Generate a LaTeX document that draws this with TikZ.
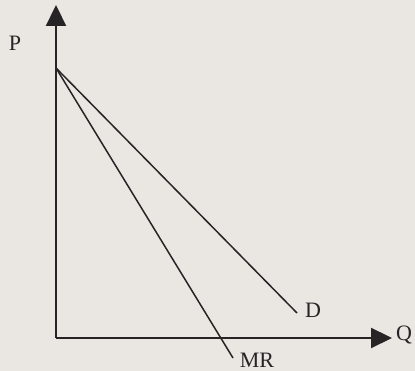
\documentclass[tikz,border=0pt]{standalone}
\usepackage{fontspec}
\setmainfont{Liberation Serif}
\usetikzlibrary{arrows.meta}
\definecolor{paper}{HTML}{EAE7E3}
\definecolor{ink}{HTML}{262424}
\tikzset{
  axis/.style={draw=ink, line width=2.2pt, -{Triangle[length=21pt,width=20pt]}},
  curve/.style={draw=ink, line width=1.5pt},
  lbl/.style={text=ink, font=\fontsize{22}{22}\selectfont, inner sep=0pt}
}
\begin{document}
\begin{tikzpicture}[x=1pt,y=1pt]
\fill[paper] (0,0) rectangle (415,371);
\useasboundingbox (0,0) rectangle (415,371);
\coordinate (O) at (56,33);
\coordinate (Ptop) at (56,366);
\coordinate (Qend) at (392,33);
\coordinate (S) at (56,303);
\coordinate (Dend) at (297,58);
\coordinate (MRend) at (233,13);
\draw[axis] (O) -- (Ptop);
\draw[axis] (O) -- (Qend);
\draw[curve] (S) -- (Dend);
\draw[curve] (S) -- (MRend);
\node[lbl] (P) at (15,328) {P};
\node[lbl] (Q) at (404,36) {Q};
\node[lbl] (D) at (313,61) {D};
\node[lbl] (MR) at (257,11) {MR};
\end{tikzpicture}
\end{document}
